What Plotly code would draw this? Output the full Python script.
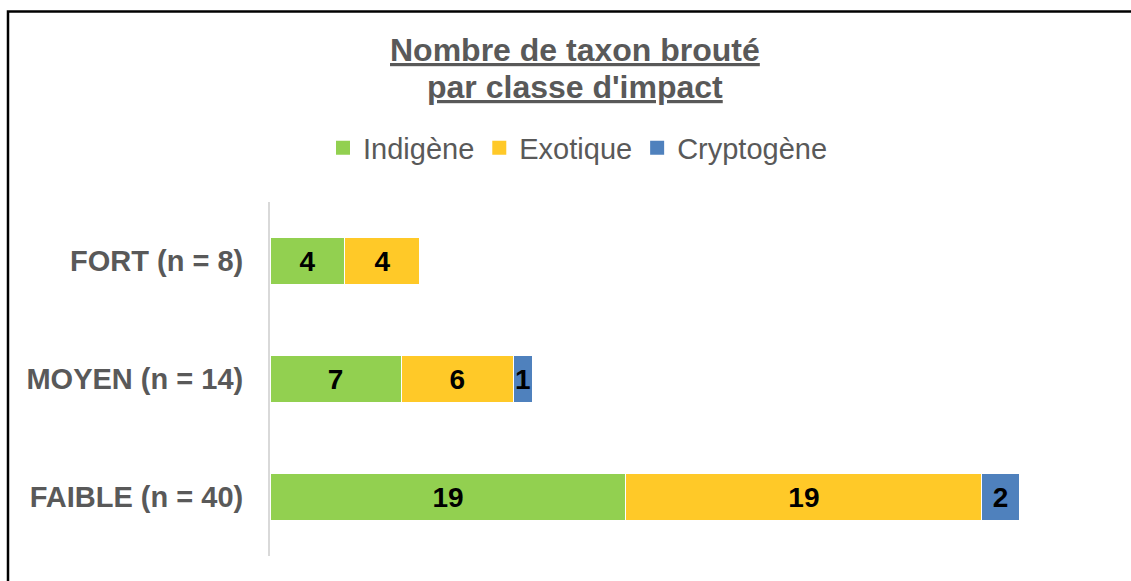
import plotly.graph_objects as go

# Impact classes (bottom to top) and taxon counts per origin
categories = ["FAIBLE (n = 40)", "MOYEN (n = 14)", "FORT (n = 8)"]
indigene = [19, 7, 4]
exotique = [19, 6, 4]
cryptogene = [2, 1, 0]

series = [
    ("Indigène", indigene, "#92D050"),
    ("Exotique", exotique, "#FFC928"),
    ("Cryptogène", cryptogene, "#4F81BD"),
]

title_lines = ["Nombre de taxon brouté", "par classe d'impact"]

W, H = 1131, 581
L, R, T, B = 270, 18, 202, 25
FONT = "Liberation Sans"
GREY = "#595959"

fig = go.Figure()
for name, vals, color in series:
    fig.add_trace(go.Bar(
        y=categories,
        x=vals,
        name=name,
        orientation="h",
        marker=dict(color=color, line=dict(color="white", width=1)),
        width=0.4,
        text=[str(v) if v else "" for v in vals],
        textposition="inside",
        insidetextanchor="middle",
        textangle=0,
        textfont=dict(family=FONT, size=28, color="black", weight="bold"),
        constraintext="none",
        showlegend=False,
        legendgroup=name,
    ))

# Legend entries with larger square swatches
for name, vals, color in series:
    fig.add_trace(go.Scatter(
        x=[None], y=[None],
        mode="markers",
        name=name,
        legendgroup=name,
        marker=dict(symbol="square", size=14, color=color),
        showlegend=True,
    ))

fig.update_layout(
    width=W, height=H,
    barmode="stack",
    plot_bgcolor="white",
    paper_bgcolor="white",
    margin=dict(l=L, r=R, t=T, b=B),
    uniformtext=dict(minsize=28, mode="show"),
    legend=dict(
        orientation="h",
        x=578 / W, xanchor="center", xref="container",
        y=1 - 148 / H, yanchor="middle", yref="container",
        font=dict(family=FONT, size=29, color=GREY),
        traceorder="normal",
        itemwidth=30,
    ),
    xaxis=dict(
        range=[0, 45],
        visible=False,
        showgrid=False,
        zeroline=False,
    ),
    yaxis=dict(
        showline=True,
        linecolor="#D9D9D9",
        linewidth=2,
        ticks="",
        ticklabelstandoff=19,
        tickfont=dict(family=FONT, size=29, color=GREY, weight="bold"),
        showgrid=False,
    ),
    showlegend=True,
)

# Two-line underlined title
for text, ypx in zip(title_lines, [50, 87]):
    fig.add_annotation(
        text=f"<u><b>{text}</b></u>",
        xref="paper", yref="paper",
        x=(575 - L) / (W - L - R), y=(H - B - ypx) / (H - T - B),
        xanchor="center", yanchor="middle",
        showarrow=False,
        font=dict(family=FONT, size=32, color=GREY),
    )

# Frame around the chart: left edge at x=8 px, top edge at y=11.5 px
pw = W - L - R
ph = H - T - B


def px_x(x):
    return (x - L) / pw


def px_y(y):
    return (H - B - y) / ph


fig.add_shape(
    type="rect", xref="paper", yref="paper",
    x0=px_x(8), x1=px_x(W + 20),
    y0=px_y(H + 20), y1=px_y(11.5),
    line=dict(color="black", width=2.5),
    fillcolor="rgba(0,0,0,0)",
    layer="above",
)

fig.write_html("out.html")
